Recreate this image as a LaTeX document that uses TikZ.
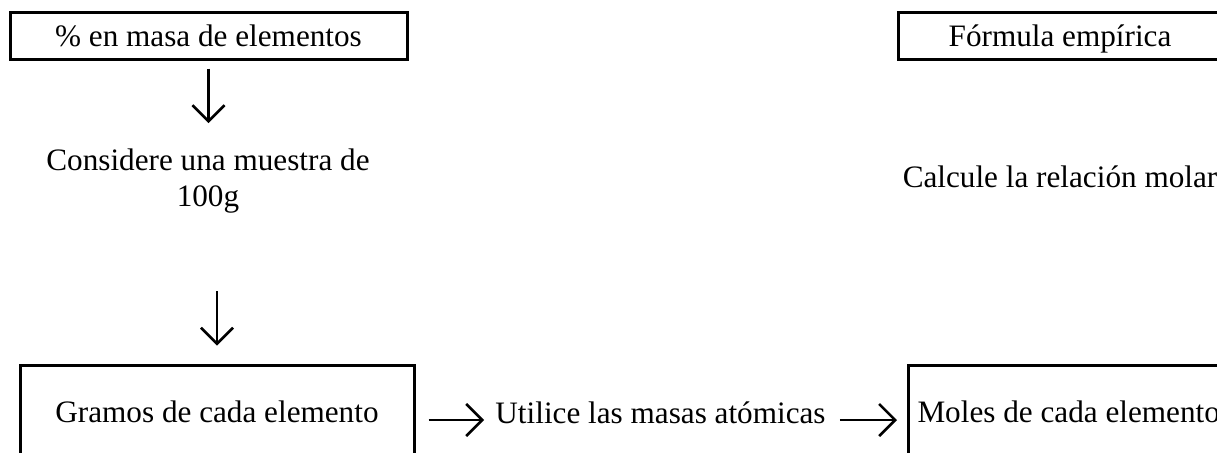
\documentclass[tikz,border=0pt]{standalone}
\usepackage{fontspec}
\setmainfont{Liberation Serif}
\usepackage{tikz}
\usetikzlibrary{arrows.meta}

\begin{document}
\begin{tikzpicture}[x=0.5pt,y=-0.5pt,
    font=\fontsize{15.6}{18}\selectfont,
    caja/.style={draw,line width=1.5pt,inner sep=0pt,text depth=0pt},
    texto/.style={inner sep=0pt},
    flecha/.style={line width=1.3pt,-{Straight Barb[length=8pt,width=16pt]}}]
    \path[use as bounding box,clip] (0,0) rectangle (1217,452);

    \node[caja,minimum width=198.5pt,minimum height=23.5pt] (masa) at (208.5,35.5) {\% en masa de elementos};
    \node[caja,minimum width=162pt,minimum height=23.5pt] (formula) at (1060,35.5) {Fórmula empírica};
    \node[texto,align=center,anchor=north] (muestra) at (208,148) {Considere una muestra de\\100g};
    \node[texto,anchor=base] (relacion) at (1060,187) {Calcule la relación molar};
    \node[caja,minimum width=197pt,minimum height=47pt] (gramos) at (217,412) {Gramos de cada elemento};
    \node[texto,anchor=base] (utilice) at (660.5,423) {Utilice las masas atómicas};
    \node[caja,anchor=west,inner xsep=4.5pt,minimum height=47pt] (moles) at (907,412) {Moles de cada elemento};
    \coordinate (fila) at (0,420);

    \draw[flecha,shorten <=4pt,shorten >=12.5pt] (masa.south) -- (masa.south |- muestra.north);
    \draw[flecha,shorten <=39pt,shorten >=9pt] (gramos.north |- muestra.south) -- (gramos.north);
    \draw[flecha,shorten <=6.5pt,shorten >=5.5pt] (gramos.east |- fila) -- (utilice.west |- fila);
    \draw[flecha,shorten <=7pt,shorten >=5pt] (utilice.east |- fila) -- (moles.west |- fila);
\end{tikzpicture}
\end{document}
